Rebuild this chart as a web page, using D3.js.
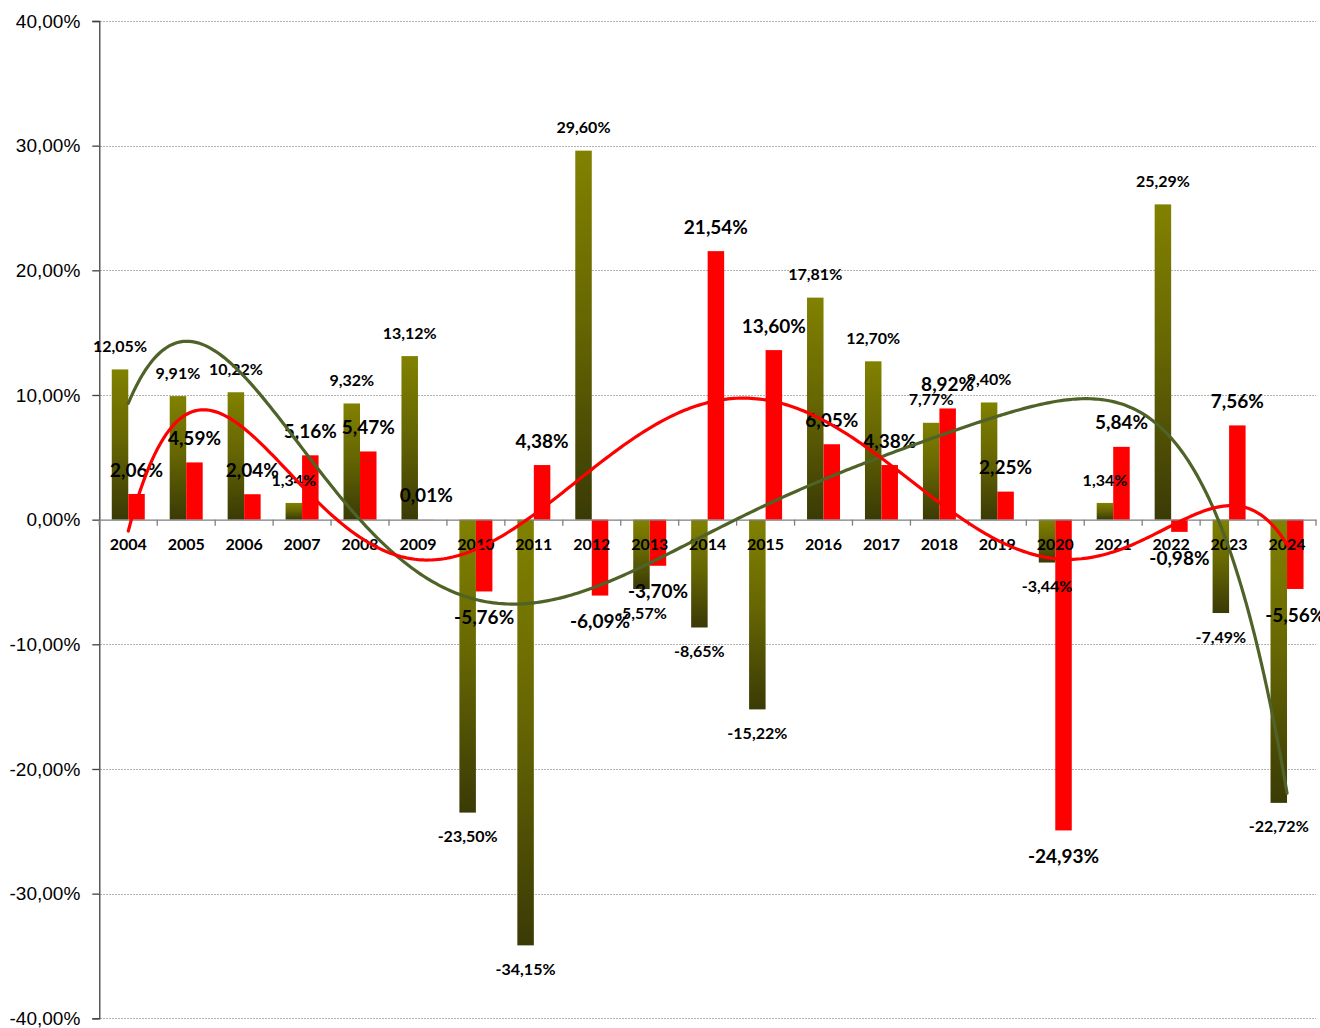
<!DOCTYPE html>
<html>
<head>
<meta charset="utf-8">
<script src="https://cdn.jsdelivr.net/npm/d3@7"></script>
<style>
  html, body { margin: 0; padding: 0; background: #ffffff; }
  svg { display: block; }
</style>
</head>
<body>
<svg id="chart" width="1320" height="1028"></svg>
<script>
// ---- data ----
const years = ["2004","2005","2006","2007","2008","2009","2010","2011","2012","2013","2014","2015","2016","2017","2018","2019","2020","2021","2022","2023","2024"];
const oliveValues = [12.05, 9.91, 10.22, 1.34, 9.32, 13.12, -23.50, -34.15, 29.60, -5.57, -8.65, -15.22, 17.81, 12.70, 7.77, 9.40, -3.44, 1.34, 25.29, -7.49, -22.72];
const redValues = [2.06, 4.59, 2.04, 5.16, 5.47, 0.01, -5.76, 4.38, -6.09, -3.70, 21.54, 13.60, 6.05, 4.38, 8.92, 2.25, -24.93, 5.84, -0.98, 7.56, -5.56];
const yTicks = [40, 30, 20, 10, 0, -10, -20, -30, -40];
const trendOrder = 6;

// ---- layout ----
const plotLeft = 99.3, plotRight = 1316, plotTop = 21, plotBottom = 1018.3;
const svg = d3.select("#chart");

const x0 = d3.scaleBand().domain(years).range([plotLeft, plotRight]).padding(0);
const barHalf = 16.5;
const x1 = d3.scaleBand().domain(["olive","red"]).range([0, barHalf * 2]).padding(0);
const y = d3.scaleLinear().domain([-40, 40]).range([plotBottom, plotTop]);
const center = d => x0(d) + x0.bandwidth() / 2;

const fmt = v => v.toFixed(2).replace(".", ",") + "%";

// gradient for olive bars
const defs = svg.append("defs");
const grad = defs.append("linearGradient").attr("id", "oliveGrad")
  .attr("x1", "0").attr("y1", "0").attr("x2", "0").attr("y2", "1");
grad.append("stop").attr("offset", "0%").attr("stop-color", "#818100");
grad.append("stop").attr("offset", "45%").attr("stop-color", "#676703");
grad.append("stop").attr("offset", "100%").attr("stop-color", "#3a3a06");

// gridlines (dotted)
svg.append("g").selectAll("line").data(yTicks.filter(t => t !== 0)).join("line")
  .attr("x1", plotLeft + 1).attr("x2", plotRight)
  .attr("y1", d => Math.round(y(d)) + 0.5).attr("y2", d => Math.round(y(d)) + 0.5)
  .attr("stroke", "#9a9a9a").attr("stroke-width", 1).attr("stroke-dasharray", "1.5,1.5");

// y axis
const yAxis = d3.axisLeft(y).tickValues(yTicks).tickSize(7).tickPadding(12)
  .tickFormat(d => d.toFixed(2).replace(".", ",") + "%");
const gy = svg.append("g").attr("transform", `translate(${plotLeft},0)`).call(yAxis);
gy.select(".domain").attr("stroke", "#404040").attr("stroke-width", 1.3);
gy.selectAll(".tick line").attr("stroke", "#404040").attr("stroke-width", 1.3);
gy.selectAll(".tick text").attr("font-family", "'Liberation Sans', Arial, sans-serif")
  .attr("font-size", "19px").attr("fill", "#000");

// bars
const groups = svg.append("g").selectAll("g").data(years).join("g")
  .attr("transform", d => `translate(${center(d) - barHalf},0)`);
groups.append("rect")
  .attr("x", x1("olive")).attr("width", x1.bandwidth())
  .attr("y", (d, i) => y(Math.max(0, oliveValues[i])))
  .attr("height", (d, i) => Math.abs(y(oliveValues[i]) - y(0)))
  .attr("fill", "url(#oliveGrad)");
groups.append("rect")
  .attr("x", x1("red")).attr("width", x1.bandwidth())
  .attr("y", (d, i) => y(Math.max(0, redValues[i])))
  .attr("height", (d, i) => Math.abs(y(redValues[i]) - y(0)))
  .attr("fill", "#ff0000");

// category axis at zero
const xAxis = d3.axisBottom(x0).tickSize(0).tickPadding(0).tickFormat("");
const gx = svg.append("g").attr("transform", `translate(0,${y(0)})`).call(xAxis);
gx.select(".domain").attr("stroke", "#7f7f7f").attr("stroke-width", 1.3);
// tick marks at band boundaries
svg.append("g").selectAll("line").data(years.concat(["end"])).join("line")
  .attr("x1", (d, i) => plotLeft + i * x0.bandwidth())
  .attr("x2", (d, i) => plotLeft + i * x0.bandwidth())
  .attr("y1", y(0)).attr("y2", y(0) + 6)
  .attr("stroke", "#7f7f7f").attr("stroke-width", 1.3);

const labelFont = "Lato, 'Open Sans', sans-serif";

// olive labels
svg.append("g").selectAll("text").data(years).join("text")
  .attr("x", d => center(d) - barHalf + x1("olive") + x1.bandwidth() / 2)
  .attr("y", (d, i) => oliveValues[i] >= 0 ? y(oliveValues[i]) - 23 : y(oliveValues[i]) + 24)
  .attr("dy", "0.35em").attr("text-anchor", "middle")
  .attr("font-family", labelFont).attr("font-weight", 700).attr("font-size", "16px")
  .attr("fill", "#000").text((d, i) => fmt(oliveValues[i]));

// red labels
svg.append("g").selectAll("text").data(years).join("text")
  .attr("x", d => center(d) - barHalf + x1("red") + x1.bandwidth() / 2)
  .attr("y", (d, i) => redValues[i] >= 0 ? y(redValues[i]) - 24 : y(redValues[i]) + 26)
  .attr("dy", "0.35em").attr("text-anchor", "middle")
  .attr("font-family", labelFont).attr("font-weight", 700).attr("font-size", "19px")
  .attr("fill", "#000").text((d, i) => fmt(redValues[i]));

// category labels
svg.append("g").selectAll("text").data(years).join("text")
  .attr("x", d => center(d)).attr("y", y(0) + 25)
  .attr("dy", "0.35em").attr("text-anchor", "middle")
  .attr("font-family", labelFont).attr("font-weight", 700).attr("font-size", "16px")
  .attr("fill", "#000").text(d => d);

// ---- polynomial trendlines (least squares, like the spreadsheet trendline) ----
function polyFit(values, order) {
  const n = values.length;
  const ts = values.map((v, i) => (i - (n - 1) / 2) / ((n - 1) / 2));
  const m = order + 1;
  const A = Array.from({length: m}, () => new Array(m + 1).fill(0));
  for (let k = 0; k < n; k++) {
    const pw = [];
    for (let p = 0; p <= 2 * order; p++) pw.push(Math.pow(ts[k], p));
    for (let r = 0; r < m; r++) {
      for (let c = 0; c < m; c++) A[r][c] += pw[r + c];
      A[r][m] += pw[r] * values[k];
    }
  }
  for (let c = 0; c < m; c++) {
    let piv = c;
    for (let r = c + 1; r < m; r++) if (Math.abs(A[r][c]) > Math.abs(A[piv][c])) piv = r;
    [A[c], A[piv]] = [A[piv], A[c]];
    for (let r = 0; r < m; r++) {
      if (r === c) continue;
      const f = A[r][c] / A[c][c];
      for (let k = c; k <= m; k++) A[r][k] -= f * A[c][k];
    }
  }
  const coef = A.map((row, i) => row[m] / row[i]);
  return idx => {
    const t = (idx - (n - 1) / 2) / ((n - 1) / 2);
    let s = 0;
    for (let p = order; p >= 0; p--) s = s * t + coef[p];
    return s;
  };
}

const xi = d3.scaleLinear().domain([0, years.length - 1]).range([center(years[0]), center(years[years.length - 1])]);
const samples = d3.range(0, years.length - 1 + 0.0001, 0.05);
const line = d3.line().x(d => xi(d[0])).y(d => y(d[1])).curve(d3.curveLinear);

const oliveFit = polyFit(oliveValues, trendOrder);
const redFit = polyFit(redValues, trendOrder);

svg.append("path").datum(samples.map(s => [s, oliveFit(s)]))
  .attr("d", line).attr("fill", "none").attr("stroke", "#4f6228").attr("stroke-width", 3.2)
  .attr("stroke-linecap", "round");
svg.append("path").datum(samples.map(s => [s, redFit(s)]))
  .attr("d", line).attr("fill", "none").attr("stroke", "#ff0000").attr("stroke-width", 3.2)
  .attr("stroke-linecap", "round");
</script>
</body>
</html>
